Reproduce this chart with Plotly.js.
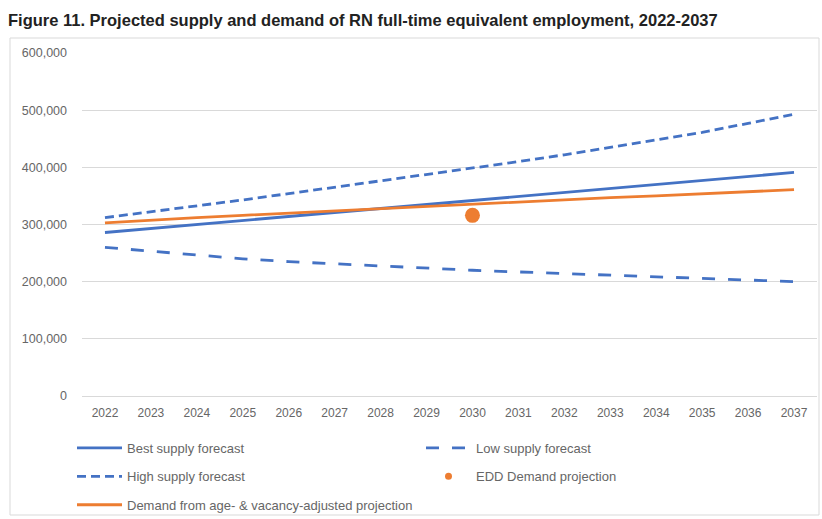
<!DOCTYPE html>
<html><head><meta charset="utf-8">
<script src="https://cdn.plot.ly/plotly-3.0.1.min.js"></script>
<style>html,body{margin:0;padding:0;background:#fff}#chart{width:822px;height:519px}</style>
</head><body><div id="chart"></div>
<script>
const years = ['2022','2023','2024','2025','2026','2027','2028','2029','2030','2031','2032','2033','2034','2035','2036','2037'];
const bestSupply = [286000,293000,300000,307000,314000,321000,328000,335000,342000,349000,356000,363000,370000,377000,384000,391000];
const lowSupply = [260000,253000,246000,240000,235000,231000,227000,224000,220000,217000,214000,211000,208000,205000,202000,200000];
const highSupply = [312000,322000,333000,343000,354000,365000,376000,387000,398000,410000,422000,435000,448000,461000,477000,493000];
const eddYear = ['2030'];
const eddDemand = [316000];
const demandAdj = [303000,308000,312000,316000,320000,324000,328000,332000,336000,340000,343000,347000,350000,354000,357000,361000];
const yTicks = [0,100000,200000,300000,400000,500000,600000];

const BLUE = '#4472C4', ORANGE = '#ED7D31';
const traces = [
  {x: years, y: bestSupply, name: 'Best supply forecast', type: 'scatter', mode: 'lines',
   line: {color: BLUE, width: 2.8}, legend: 'legend', legendgroup: 'a', legendrank: 1},
  {x: years, y: lowSupply, name: 'Low supply forecast', type: 'scatter', mode: 'lines',
   line: {color: BLUE, width: 2.8, dash: '13px,13px'}, legend: 'legend2', legendgroup: 'b', legendrank: 1},
  {x: years, y: highSupply, name: 'High supply forecast', type: 'scatter', mode: 'lines',
   line: {color: BLUE, width: 2.8, dash: '9px,5px'}, legend: 'legend', legendgroup: 'c', legendrank: 2},
  // legend entry for the EDD point (small legend dot); same data point, hidden under the large marker
  {x: eddYear, y: eddDemand, name: 'EDD Demand projection', type: 'scatter', mode: 'markers',
   marker: {color: ORANGE, size: 7}, legend: 'legend2', legendgroup: 'd', legendrank: 2},
  {x: eddYear, y: eddDemand, name: 'EDD Demand projection', type: 'scatter', mode: 'markers',
   marker: {color: ORANGE, size: 15}, showlegend: false, legendgroup: 'd'},
  {x: years, y: demandAdj, name: 'Demand from age- & vacancy-adjusted projection', type: 'scatter', mode: 'lines',
   line: {color: ORANGE, width: 2.8}, legend: 'legend', legendgroup: 'e', legendrank: 3}
];

const L = 82, R = 5, T = 53, B = 123, W = 822, H = 519;
const pw = W - L - R, ph = H - T - B;
const px = v => (v - L) / pw;
const py = v => (H - B - v) / ph;

const FONT = 'Liberation Sans, Arial, sans-serif';
const legendFont = {family: FONT, size: 13, color: '#666'};
const layout = {
  width: W, height: H,
  margin: {l: L, r: R, t: T, b: B, pad: 0, autoexpand: false},
  paper_bgcolor: '#fff', plot_bgcolor: '#fff',
  title: {text: '<b>Figure 11. Projected supply and demand of RN full-time equivalent employment, 2022-2037</b>',
    font: {family: FONT, size: 16.5, color: '#222'},
    x: 8 / W, xanchor: 'left', y: 1 - 20 / H, yanchor: 'middle'},
  xaxis: {type: 'category', range: [-0.5, 15.5], showgrid: false, zeroline: false, showline: false,
    ticks: '', ticklabelstandoff: 8, tickfont: {family: FONT, size: 12, color: '#666'}, fixedrange: true},
  yaxis: {range: [0, 600000], tickvals: yTicks, tickformat: ',d', showgrid: true, gridcolor: '#d9d9d9',
    gridwidth: 1, zeroline: true, zerolinecolor: '#d9d9d9', zerolinewidth: 1, showline: false, ticks: '',
    ticklabelstandoff: 14,
    tickfont: {family: FONT, size: 12.5, color: '#666'}, fixedrange: true},
  showlegend: true,
  legend: {orientation: 'v', x: px(72), xanchor: 'left', y: py(433), yanchor: 'top',
    font: legendFont, tracegroupgap: 8.5, itemwidth: 45, bgcolor: 'rgba(0,0,0,0)'},
  legend2: {orientation: 'v', x: px(421), xanchor: 'left', y: py(433), yanchor: 'top',
    font: legendFont, tracegroupgap: 8.5, itemwidth: 45, bgcolor: 'rgba(0,0,0,0)'},
  shapes: [{type: 'rect', xref: 'paper', yref: 'paper', x0: px(10), x1: px(819), y0: py(515), y1: py(38),
    line: {color: '#d9d9d9', width: 1}, fillcolor: 'rgba(0,0,0,0)', layer: 'below'}]
};
Plotly.newPlot('chart', traces, layout, {displayModeBar: false, staticPlot: true});
</script></body></html>
